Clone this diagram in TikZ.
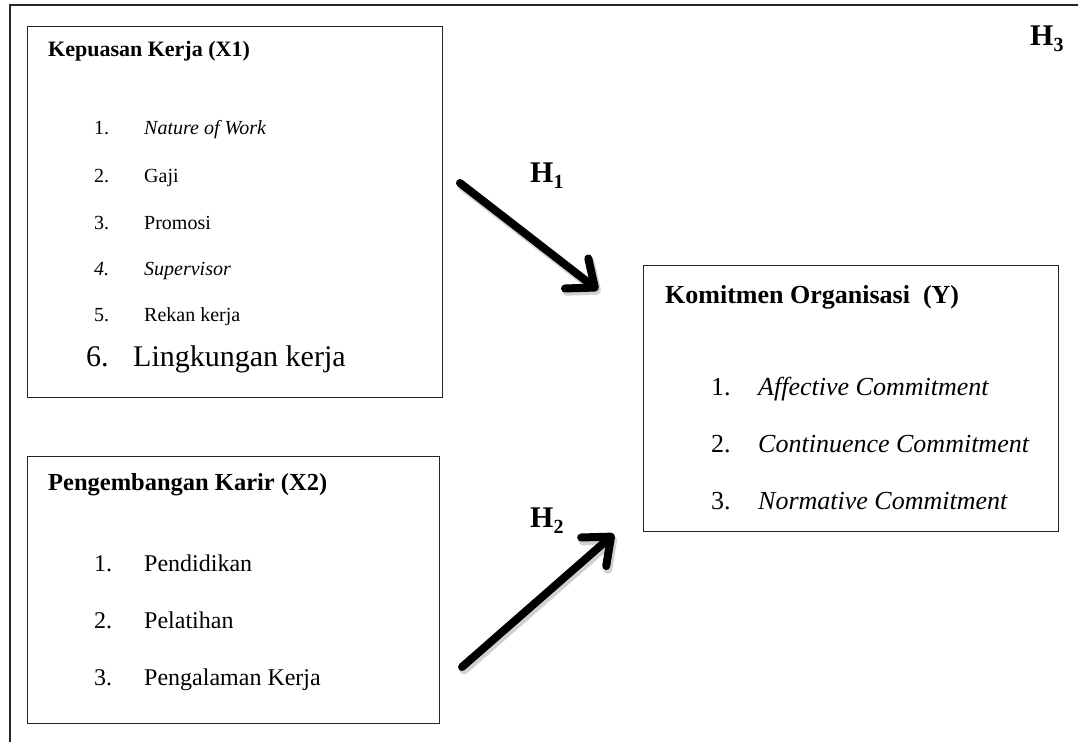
\documentclass[tikz,border=0pt]{standalone}
\usepackage{fontspec}
\setmainfont{Liberation Serif}
\usetikzlibrary{arrows.meta}
\newcommand{\fs}[1]{\fontsize{#1}{#1}\selectfont}
\newcommand{\hyp}[1]{\textbf{H}\raisebox{-0.22em}{\fs{20}\textbf{#1}}}
\tikzset{
  frame/.style={line width=1.3pt, draw=black!85},
  box/.style={draw=black!85, line width=1.3pt, anchor=north west, inner sep=0pt},
  lbl/.style={anchor=base west, inner sep=0pt},
  harrow/.style={line width=8pt, line cap=round, line join=round,
    -{Straight Barb[length=23pt,width=38pt,round]}},
  hshadow/.style={line width=9pt, line cap=round, draw=black, opacity=0.18,
    -{Straight Barb[length=23pt,width=38pt,round]}}
}
\begin{document}
\begin{tikzpicture}[x=1pt,y=-1pt]
\useasboundingbox (0,0) rectangle (1078,742);
% outer frame (top and left)
\draw[frame] (1078,5) -- (10,5) -- (10,742);
% boxes
\node[box, minimum width=415pt, minimum height=371pt] (b1) at (27,26) {};
\node[box, minimum width=412pt, minimum height=267pt] (b2) at (27,456) {};
\node[box, minimum width=415pt, minimum height=266pt] (by) at (643,265) {};
% box 1 texts
\node[lbl, font=\fs{22}\bfseries] (t1) at (48,56) {Kepuasan Kerja (X1)};
\node[lbl, font=\fs{20}] (n11) at (94,134) {1.};
\node[lbl, font=\fs{20}\itshape] (i11) at (144,134) {Nature of Work};
\node[lbl, font=\fs{20}] (n12) at (94,182) {2.};
\node[lbl, font=\fs{20}] (i12) at (144,182) {Gaji};
\node[lbl, font=\fs{20}] (n13) at (94,229) {3.};
\node[lbl, font=\fs{20}] (i13) at (144,229) {Promosi};
\node[lbl, font=\fs{20}\itshape] (n14) at (94,275) {4.};
\node[lbl, font=\fs{20}\itshape] (i14) at (144,275) {Supervisor};
\node[lbl, font=\fs{20}] (n15) at (94,321) {5.};
\node[lbl, font=\fs{20}] (i15) at (144,321) {Rekan kerja};
\node[lbl, font=\fs{30}] (n16) at (86,366) {6.};
\node[lbl, font=\fs{30}] (i16) at (133,366) {Lingkungan kerja};
% box 2 texts
\node[lbl, font=\fs{24.5}\bfseries] (t2) at (48,490) {Pengembangan Karir (X2)};
\node[lbl, font=\fs{24}] (n21) at (94,571) {1.};
\node[lbl, font=\fs{24}] (i21) at (144,571) {Pendidikan};
\node[lbl, font=\fs{24}] (n22) at (94,628) {2.};
\node[lbl, font=\fs{24}] (i22) at (144,628) {Pelatihan};
\node[lbl, font=\fs{24}] (n23) at (94,685) {3.};
\node[lbl, font=\fs{24}] (i23) at (144,685) {Pengalaman Kerja};
% box Y texts
\node[lbl, font=\fs{26}\bfseries] (ty) at (665,303) {Komitmen Organisasi\ \ (Y)};
\node[lbl, font=\fs{26}] (ny1) at (711,395) {1.};
\node[lbl, font=\fs{26}\itshape] (iy1) at (758,395) {Affective Commitment};
\node[lbl, font=\fs{26}] (ny2) at (711,452) {2.};
\node[lbl, font=\fs{26}\itshape] (iy2) at (758,452) {Continuence Commitment};
\node[lbl, font=\fs{26}] (ny3) at (711,509) {3.};
\node[lbl, font=\fs{26}\itshape] (iy3) at (758,509) {Normative Commitment};
% hypotheses labels
\node[lbl, font=\fs{30}] (h1) at (530,182) {\hyp{1}};
\node[lbl, font=\fs{30}] (h2) at (530,527) {\hyp{2}};
\node[lbl, font=\fs{30}] (h3) at (1030,45) {\hyp{3}};
% arrows
\coordinate (a1s) at (460,183);
\coordinate (a1e) at (598,290);
\coordinate (a2s) at (462,667);
\coordinate (a2e) at (614,534);
\draw[hshadow] ([shift={(2,3)}]a1s) -- ([shift={(2,3)}]a1e);
\draw[hshadow] ([shift={(2,3)}]a2s) -- ([shift={(2,3)}]a2e);
\draw[harrow] (a1s) -- (a1e);
\draw[harrow] (a2s) -- (a2e);
\end{tikzpicture}
\end{document}
